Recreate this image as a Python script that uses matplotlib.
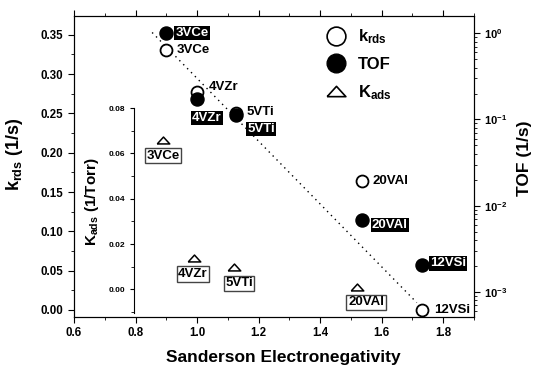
import numpy as np
import matplotlib
matplotlib.use("Agg")
import matplotlib.pyplot as plt
from matplotlib.lines import Line2D
from matplotlib.ticker import MultipleLocator, LogLocator, NullFormatter

plt.rcParams["font.family"] = "Liberation Sans"
plt.rcParams["font.weight"] = "bold"
plt.rcParams["mathtext.fontset"] = "custom"
plt.rcParams["mathtext.rm"] = "Liberation Sans:bold"
plt.rcParams["mathtext.it"] = "Liberation Sans:bold"
plt.rcParams["mathtext.bf"] = "Liberation Sans:bold"

# data
samples = ["3VCe", "4VZr", "5VTi", "20VAl", "12VSi"]
en = [0.90, 1.00, 1.125, 1.535, 1.73]
k_rds = [0.331, 0.2775, 0.250, 0.164, 0.000]
tof = [1.0, 0.172, 0.113, 0.00687, 0.00203]

kads_samples = ["3VCe", "4VZr", "5VTi", "20VAl"]
kads_en = [0.89, 0.99, 1.12, 1.52]
k_ads = [0.066, 0.0139, 0.0098, 0.001]

fit_x = [0.854, 1.714]
fit_y = [0.353, 0.0093]

# label offsets (pixels)
krds_off = [(10, 0), (12, 5), (11, 1), (11, 0), (12, 0)]
tof_off = [(9, 0), (10, -19), (12, -14), (10, -5), (8, 2)]
tof_ha = ["left", "center", "left", "left", "left"]
kads_off = [(0, -16), (-1, -16), (5, -16), (9, -15)]

tri = [(-1, -0.55), (1, -0.55), (0, 0.55), (-1, -0.55)]

fig = plt.figure(figsize=(5.33, 3.65), dpi=100)
ax = fig.add_axes([0.1388, 0.1315, 0.7505, 0.8247])
ax.set_xlim(0.6, 1.9)
ax.set_ylim(-0.009, 0.374)
ax.xaxis.set_major_locator(MultipleLocator(0.2))
ax.xaxis.set_minor_locator(MultipleLocator(0.1))
ax.yaxis.set_major_locator(MultipleLocator(0.05))
ax.yaxis.set_minor_locator(MultipleLocator(0.025))
ax.xaxis.set_major_formatter(plt.FormatStrFormatter("%.1f"))
ax.yaxis.set_major_formatter(plt.FormatStrFormatter("%.2f"))
ax.tick_params(which="both", direction="out", top=True, right=False, labelsize=8.3)
ax.tick_params(which="major", length=4)
ax.tick_params(which="minor", length=2.5)

ax.plot(fit_x, fit_y, color="black", lw=1, linestyle=(0, (1, 3)), zorder=1)
ax.plot(en, k_rds, "o", ms=8.6, mfc="white", mec="black", mew=1.3, linestyle="none", zorder=3)
for s, x, y, off in zip(samples, en, k_rds, krds_off):
    ax.annotate(s, (x, y), xytext=off, textcoords="offset pixels", fontsize=9.5,
                fontweight="bold", ha="left", va="center")

ax.set_xlabel("Sanderson Electronegativity", fontsize=12.5, fontweight="bold")
ax.xaxis.set_label_coords(0.524, -0.108)
ax.set_ylabel(r"$k_{rds}$ (1/s)", fontsize=13, fontweight="bold")
ax.yaxis.set_label_coords(-0.1225, 0.54)

# TOF on log axis
ax2 = ax.twinx()
ax2.set_yscale("log")
ax2.set_ylim(10 ** -3.29, 10 ** 0.2)
ax2.yaxis.set_major_locator(LogLocator(base=10))
ax2.yaxis.set_minor_locator(LogLocator(base=10, subs=np.arange(2, 10)))
ax2.yaxis.set_minor_formatter(NullFormatter())
ax2.tick_params(which="both", direction="out", labelsize=8)
ax2.tick_params(which="major", length=4)
ax2.tick_params(which="minor", length=2.5)
ax2.plot(en, tof, "o", ms=9.4, color="black", linestyle="none", zorder=4)
for s, x, y, off, ha in zip(samples, en, tof, tof_off, tof_ha):
    ax2.annotate(s, (x, y), xytext=off, textcoords="offset pixels",
                 fontsize=9.5, fontweight="bold", color="white", ha=ha, va="center",
                 bbox=dict(boxstyle="square,pad=0.08", fc="black", ec="none"))
ax2.set_ylabel("TOF (1/s)", fontsize=12.5, fontweight="bold")
ax2.yaxis.set_label_coords(1.107, 0.528)

# legend
handles = [
    Line2D([], [], marker="o", ms=13.5, mfc="white", mec="black", mew=1.2, linestyle="none"),
    Line2D([], [], marker="o", ms=13.5, color="black", linestyle="none"),
    Line2D([], [], marker=tri, ms=13.5, mfc="white", mec="black", mew=1.2, linestyle="none"),
]
labels = [r"$k_{rds}$", "TOF", r"$K_{ads}$"]
ax2.legend(handles, labels, loc="upper left", bbox_to_anchor=(0.585, 1.0), frameon=False,
           labelspacing=0.65, handletextpad=0.3, borderaxespad=0.3,
           prop={"weight": "bold", "size": 12})

# inset K_ads axis
ax3 = fig.add_axes([0.1388, 0.1416, 0.7505, 0.5625], sharex=ax)
ax3.patch.set_visible(False)
for sp in ["top", "right", "bottom"]:
    ax3.spines[sp].set_visible(False)
ax3.spines["left"].set_position(("data", 0.795))
ax3.xaxis.set_visible(False)
ax3.set_ylim(-0.0105, 0.08)
ax3.yaxis.set_major_locator(MultipleLocator(0.02))
ax3.yaxis.set_minor_locator(MultipleLocator(0.01))
ax3.yaxis.set_major_formatter(plt.FormatStrFormatter("%.2f"))
ax3.tick_params(which="both", direction="out", labelsize=6)
ax3.tick_params(which="major", length=3)
ax3.tick_params(which="minor", length=2)
ax3.plot(kads_en, k_ads, marker=tri, ms=9, mfc="white", mec="black", mew=1.1, linestyle="none")
for s, x, y, off in zip(kads_samples, kads_en, k_ads, kads_off):
    ax3.annotate(s, (x, y), xytext=off, textcoords="offset pixels", fontsize=9.5,
                 fontweight="bold", ha="center", va="center",
                 bbox=dict(boxstyle="square,pad=0.12", fc="white", ec="#444444", lw=1))
ax3.set_ylabel(r"$K_{ads}$ (1/Torr)", fontsize=11, fontweight="bold")
ax3.yaxis.set_label_coords(0.068, 0.546)

fig.savefig("out.png", dpi=100)
